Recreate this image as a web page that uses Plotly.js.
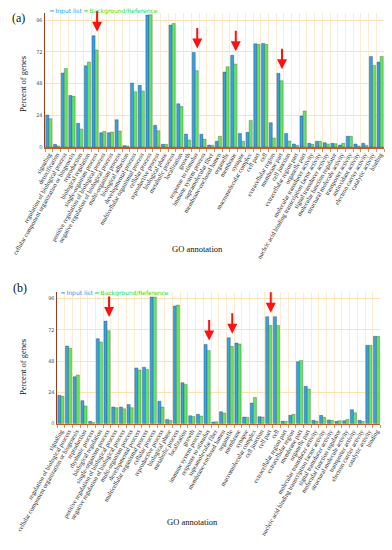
<!DOCTYPE html>
<html><head><meta charset="utf-8">
<script src="https://cdn.plot.ly/plotly-3.0.1.min.js"></script>
<style>html,body{margin:0;padding:0;background:#fff}#chart{width:392px;height:550px}</style>
</head><body><div id="chart"></div>
<script>
// ---------- data ----------
const categoriesA = ["signaling","detoxification","regulation of biological process","cellular component organization or biogenesis","reproduction","biological regulation","single-organism process","positive regulation of biological process","negative regulation of biological process","multi-organism process","biological adhesion","developmental process","multicellular organismal process","cellular process","reproductive process","biological phase","metabolic process","localization","growth","response to stimulus","immune system process","supramolecular fiber","membrane-enclosed lumen","organelle","membrane","synapse","macromolecular complex","cell part","cell","extracellular region","membrane part","cell junction","extracellular region part","organelle part","molecular transducer activity","nucleic acid binding transcription factor activity","signal transducer activity","molecular function regulator","structural molecule activity","transporter activity","antioxidant activity","electron carrier activity","catalytic activity","binding"];
const inputA = [24.2,2,55.9,39,17.9,61.4,84.1,10.8,10.8,20.6,1,48.3,46.6,99.7,16.4,2,92.2,32.7,9.8,71.5,9.6,1.5,4.3,56.7,69.3,10.3,11.1,78,78.3,18.4,55.7,10.3,2.3,23.4,2.8,4.3,3.3,2.8,1.5,8.1,2.3,2.8,68.5,64.2];
const referenceA = [21.4,0.8,59.4,38.3,13.6,64.2,73.3,11.8,11.3,12.1,0.8,41.8,42.3,100,12.3,2,93.4,30.7,5.3,57.7,5.8,1.3,8.1,60.7,62.7,4.3,20.1,77.6,77.6,6.8,50.1,4.5,1.3,27.2,2,4.3,2.3,2.5,2.8,8.1,0.8,1.3,61.7,68.5];
const arrowsA = ["single-organism process","response to stimulus","membrane","membrane part"];

const categoriesB = ["signaling","regulation of biological process","cellular component organization or biogenesis","reproduction","rhythmic process","biological regulation","single-organism process","positive regulation of biological process","negative regulation of biological process","multi-organism process","developmental process","multicellular organismal process","cellular process","reproductive process","biological phase","metabolic process","localization","growth","immune system process","response to stimulus","supramolecular fiber","membrane-enclosed lumen","organelle","membrane","synapse","macromolecular complex","cell junction","cell part","cell","extracellular region part","extracellular region","membrane part","organelle part","molecular transducer activity","nucleic acid binding transcription factor activity","signal transducer activity","molecular function regulator","structural molecule activity","transporter activity","electron carrier activity","catalytic activity","binding"];
const inputB = [21.8,59.6,36.1,17.7,1.8,65.3,78.8,12.8,12.8,14.8,42.8,43.3,97.3,17.2,3.3,90.4,31.5,6.1,7.2,60.9,1.3,9.2,66,62,5.1,15.9,5.4,82.2,82.2,1.8,6.4,47.6,28.7,2.6,6.4,2.8,1.8,2.3,10.8,2.6,60.2,67.1];
const referenceB = [21,57.9,37.4,13.6,1,62.7,71.4,12.3,11.5,12.3,41.2,41.7,97.3,12.8,2.6,91.1,30.2,5.6,5.9,56.3,1.5,8.2,59.4,61.2,4.9,20.2,5.1,75.5,75.5,1.8,7.2,48.6,26.6,2,4.9,2.6,2.3,3.3,8.4,1.8,60.2,67.1];
const arrowsB = ["single-organism process","response to stimulus","organelle","cell part"];

const yTicks = [0,24,48,72,96];
const seriesNames = ["Input list","Background/Reference"];
const panelLabels = ["(a)","(b)"];
const xTitle = "GO annotation";
const yTitle = "Percent of genes";

// ---------- layout helpers ----------
const W = 392, H = 550;
const px = v => v / W;
const py = v => 1 - v / H;
const BLUE = '#2ea3ea', GREEN = '#5fe85f';
const BLUE_T = '#1e9cf0', GREEN_T = '#27e027';

const panels = [
  {cats: categoriesA, inp: inputA, ref: referenceA, arrows: arrowsA, xs:'x', ys:'y', x0:45, x1:384, yTop:13.4, yBot:147, label:[18,17.5], legX:47, legY:10.7, titleX:197, titleY:249, yTitleX:23, yTitleY:84},
  {cats: categoriesB, inp: inputB, ref: referenceB, arrows: arrowsB, xs:'x2', ys:'y2', x0:57, x1:380.4, yTop:292.2, yBot:423.7, label:[20,288], legX:58, legY:292.7, titleX:192, titleY:522, yTitleX:23, yTitleY:367}
];

const traces = [];
const layout = {
  width: W, height: H, margin: {l:0, r:0, t:0, b:0},
  paper_bgcolor: '#fff', plot_bgcolor: '#fff',
  barmode: 'group', bargap: 0.2, bargroupgap: 0,
  showlegend: false, annotations: [], font: {family: 'DejaVu Sans'}
};

panels.forEach((p, i) => {
  const sfx = i === 0 ? '' : '2';
  traces.push({type:'bar', name: seriesNames[0], x: p.cats, y: p.inp, xaxis: p.xs, yaxis: p.ys,
    marker: {color: BLUE, line: {color: 'rgba(60,60,70,0.75)', width: 0.5}}, hoverinfo: 'x+y'});
  traces.push({type:'bar', name: seriesNames[1], x: p.cats, y: p.ref, xaxis: p.xs, yaxis: p.ys,
    marker: {color: GREEN, line: {color: 'rgba(80,80,80,0.75)', width: 0.5}}, hoverinfo: 'x+y'});

  layout['xaxis' + sfx] = {
    domain: [px(p.x0), px(p.x1)], anchor: p.ys, type: 'category',
    tickmode: 'array', tickvals: p.cats, ticktext: p.cats, tickangle: -60,
    tickfont: {family: 'Liberation Serif', size: 6.3, color: '#222'},
    tickson: 'boundaries', ticks: 'outside', ticklen: 3, tickcolor: '#e8904a', tickwidth: 1,
    showgrid: true, gridcolor: '#fdebd2', gridwidth: 1,
    showline: true, linecolor: '#c45a2c', linewidth: 1.5,
    automargin: false, fixedrange: true
  };
  layout['yaxis' + sfx] = {
    domain: [py(p.yBot), py(p.yTop)], anchor: p.xs, range: [0, 101],
    tickmode: 'array', tickvals: yTicks,
    tickfont: {family: 'DejaVu Sans', size: 5, color: '#555'},
    showgrid: true, gridcolor: '#fde0b4', gridwidth: 1,
    showline: true, linecolor: '#9a3c1c', linewidth: 1.5,
    zeroline: false, ticks: '', automargin: false, fixedrange: true
  };

  // panel label
  layout.annotations.push({xref:'paper', yref:'paper', x: px(p.label[0]), y: py(p.label[1]),
    text: panelLabels[i], showarrow:false, xanchor:'center', yanchor:'middle',
    font:{family:'Liberation Serif', size:12, color:'#111'}});
  // legend
  layout.annotations.push({xref:'paper', yref:'paper', x: px(p.legX), y: py(p.legY),
    text: '━ ' + seriesNames[0], showarrow:false, xanchor:'left', yanchor:'middle',
    font:{family:'DejaVu Sans', size:6, color: BLUE_T}});
  layout.annotations.push({xref:'paper', yref:'paper', x: px(p.legX + 34), y: py(p.legY),
    text: '━ ' + seriesNames[1], showarrow:false, xanchor:'left', yanchor:'middle',
    font:{family:'DejaVu Sans', size:6, color: GREEN_T}});
  // axis titles
  layout.annotations.push({xref:'paper', yref:'paper', x: px(p.titleX), y: py(p.titleY),
    text: xTitle, showarrow:false, xanchor:'center', yanchor:'middle',
    font:{family:'Liberation Serif', size:8.5, color:'#111'}});
  layout.annotations.push({xref:'paper', yref:'paper', x: px(p.yTitleX), y: py(p.yTitleY),
    text: yTitle, showarrow:false, textangle:-90, xanchor:'center', yanchor:'middle',
    font:{family:'Liberation Serif', size:8.5, color:'#111'}});
  // red arrows
  p.arrows.forEach(c => {
    const k = p.cats.indexOf(c);
    layout.annotations.push({xref: p.xs, yref: p.ys, x: c, y: Math.max(p.inp[k], p.ref[k]),
      text: '', showarrow: true, ax: 0, ay: -26, standoff: 4, xshift: 2,
      arrowhead: 2, arrowsize: 1, arrowwidth: 2, arrowcolor: '#ff1111'});
  });
});

Plotly.newPlot('chart', traces, layout, {staticPlot: true, displayModeBar: false});
</script>
</body></html>
